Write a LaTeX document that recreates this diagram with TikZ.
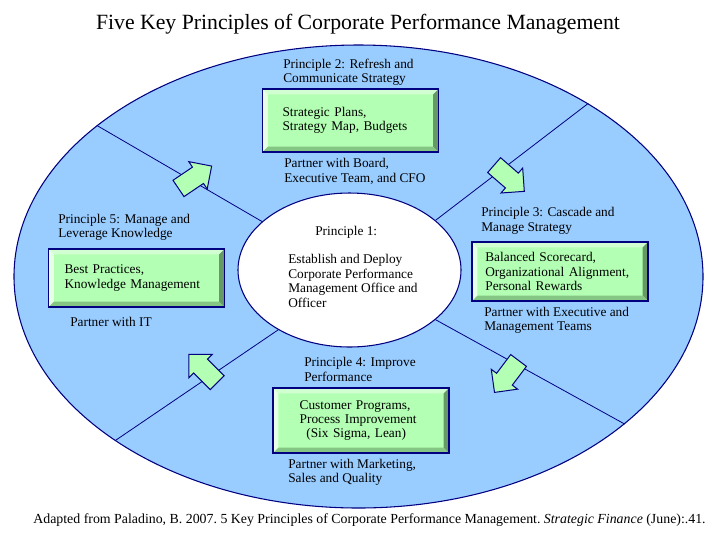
\documentclass[tikz,border=0pt]{standalone}
\usepackage{fontspec}
\setmainfont{Liberation Serif}
\usetikzlibrary{shapes.geometric,shapes.arrows,positioning}
\definecolor{navy}{HTML}{000080}
\definecolor{sky}{HTML}{99CCFF}
\definecolor{mint}{HTML}{B3FFB3}
\definecolor{minttop}{HTML}{D2FFD2}
\definecolor{mintleft}{HTML}{E6FFE6}
\definecolor{mintright}{HTML}{669966}
\definecolor{mintbottom}{HTML}{85C685}
\newcommand{\bodyfont}{\fontsize{10}{10.8}\selectfont}
\newlength{\bw}
\setlength{\bw}{4pt}
\tikzstyle{heading}=[font=\fontsize{16.3}{18}\selectfont, inner sep=0pt]
\tikzstyle{note}=[anchor=west, align=left, inner sep=0pt, font=\bodyfont]
\tikzstyle{panel}=[draw=navy, fill=mint, line width=0.9pt, outer sep=0pt, minimum width=132pt, align=left, inner ysep=0pt, font=\bodyfont]
\tikzstyle{spoke}=[draw=navy, line width=0.6pt]
\tikzstyle{flowarrow}=[single arrow, draw=navy, fill=mint, line width=0.75pt, inner sep=7pt, single arrow head extend=5pt, minimum height=30pt]
% bevelled edge round a panel
\newcommand{\bevelbox}[1]{%
  \fill[minttop] (#1.north west) -- (#1.north east) -- ([xshift=-\bw,yshift=-\bw]#1.north east) -- ([xshift=\bw,yshift=-\bw]#1.north west) -- cycle;
  \fill[mintleft] (#1.north west) -- (#1.south west) -- ([xshift=\bw,yshift=\bw]#1.south west) -- ([xshift=\bw,yshift=-\bw]#1.north west) -- cycle;
  \fill[mintright] (#1.north east) -- (#1.south east) -- ([xshift=-\bw,yshift=\bw]#1.south east) -- ([xshift=-\bw,yshift=-\bw]#1.north east) -- cycle;
  \fill[mintbottom] (#1.south west) -- (#1.south east) -- ([xshift=-\bw,yshift=\bw]#1.south east) -- ([xshift=\bw,yshift=\bw]#1.south west) -- cycle;
  \draw[navy, line width=0.9pt] (#1.north west) rectangle (#1.south east);
}

\begin{document}
\begin{tikzpicture}[x=0.75pt, y=-0.75pt]
            \useasboundingbox (0,0) rectangle (716,537);

            \node[heading] (title) at (358,24) {Five Key Principles of Corporate Performance Management};

            \node[ellipse, draw=navy, fill=sky, line width=0.8pt, inner sep=0pt, minimum width=516.75pt, minimum height=347.25pt] (ring) at (358.5,276.5) {};
            \node[ellipse, draw=navy, fill=white, line width=0.8pt, inner sep=0pt, minimum width=167.25pt, minimum height=115.5pt] (hub) at (349.5,270) {};

            \begin{scope}[every path/.style={spoke}]
                \path (hub.151) -- (ring.150.5);
                \path (hub.30.3) -- (ring.37.3);
                \path (hub.-30.7) -- (ring.-29.6);
                \path (hub.220) -- (ring.214.4);
            \end{scope}

            \begin{scope}[every node/.style={flowarrow}]
                \node[rotate=34] (a52) at (191,180) {};
                \node[rotate=-41] (a23) at (505.5,175) {};
                \node[rotate=-127] (a34) at (509.5,372.5) {};
                \node[rotate=135] (a45) at (206.5,372) {};
            \end{scope}

            \begin{scope}[every node/.style={panel}]
                \node[minimum height=47.25pt, inner xsep=15pt, text width=102pt] (p2box) at (350.5,120.5) {Strategic Plans,\\Strategy Map, Budgets};
                \node[minimum height=44.25pt, inner xsep=10pt, text width=112pt] (p3box) at (560,271.5) {Balanced Scorecard,\\Organizational Alignment,\\Personal Rewards};
                \node[minimum height=48.75pt, inner xsep=20pt, text width=92pt] (p4box) at (361,420.5) {Customer Programs,\\Process Improvement\\\hspace*{5pt}(Six Sigma, Lean)};
                \node[minimum height=43.5pt, inner xsep=12pt, text width=108pt] (p5box) at (136.5,278) {Best Practices,\\Knowledge Management};
            \end{scope}
            \bevelbox{p2box}
            \bevelbox{p3box}
            \bevelbox{p4box}
            \bevelbox{p5box}

            \begin{scope}[every node/.style={note}]
                \node (p1head) at (315,232) {Principle 1:};
                \node (p1text) at (288,281) {Establish and Deploy\\Corporate Performance\\Management Office and\\Officer};
                \node (p2head) at (283,72) {Principle 2: Refresh and\\Communicate Strategy};
                \node (p2team) at (284,171.5) {Partner with Board,\\Executive Team, and CFO};
                \node (p3head) at (481,221) {Principle 3: Cascade and\\Manage Strategy};
                \node (p3team) at (484,320.5) {Partner with Executive and\\Management Teams};
                \node (p4head) at (304,369.5) {Principle 4: Improve\\Performance};
                \node (p4team) at (288,472) {Partner with Marketing,\\Sales and Quality};
                \node (p5head) at (58,227.5) {Principle 5: Manage and\\Leverage Knowledge};
                \node (p5team) at (70,322) {Partner with IT};
                \node[anchor=center, font=\fontsize{10.4}{12}\selectfont] (source) at (369.5,520) {\frenchspacing Adapted from Paladino, B. 2007. 5 Key Principles of Corporate Performance Management. \textit{Strategic Finance} (June):.41.};
            \end{scope}
        \end{tikzpicture}
\end{document}
